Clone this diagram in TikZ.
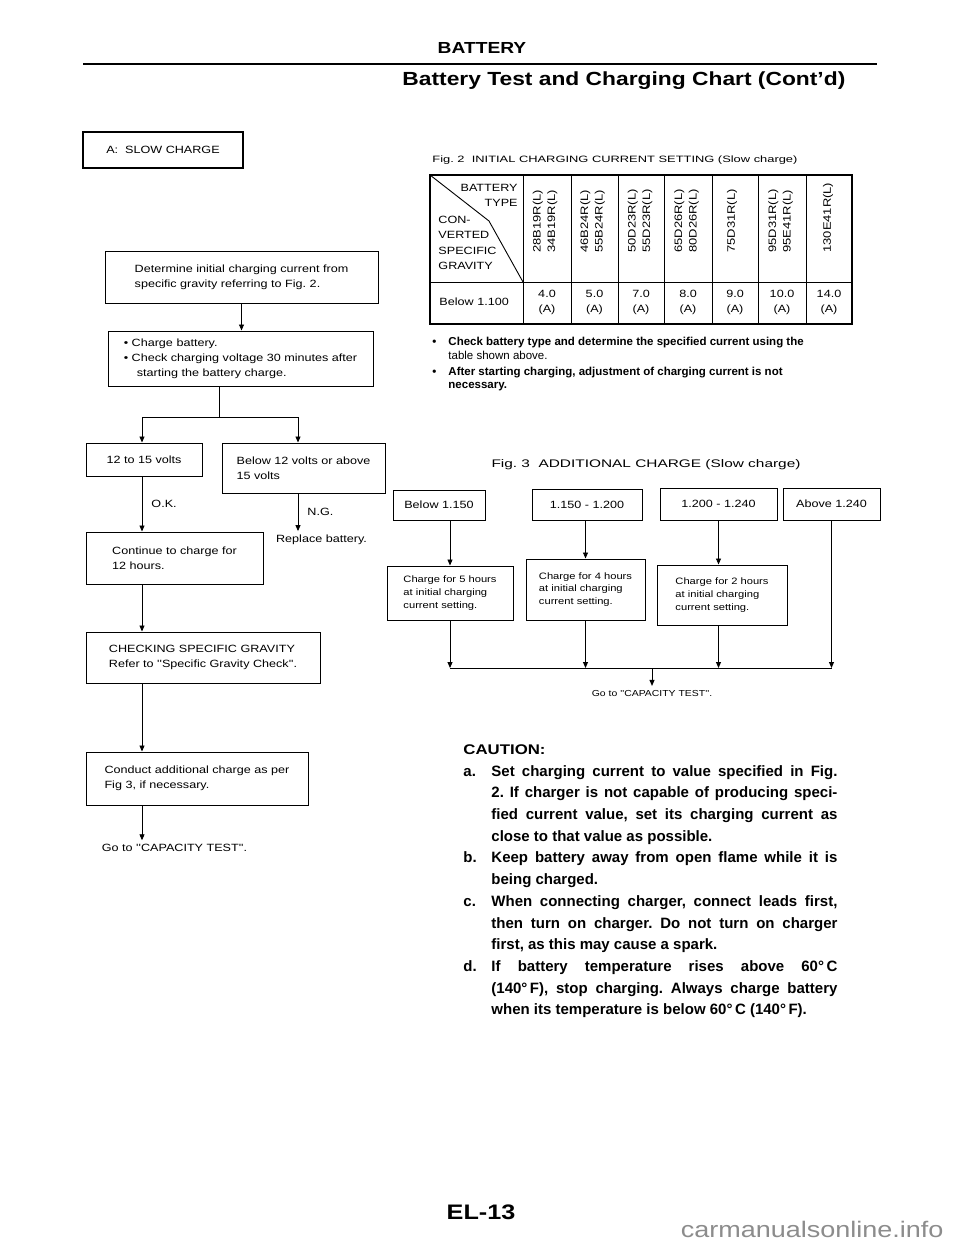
\documentclass[tikz,border=0pt]{standalone}
\usepackage{fontspec}
\setmainfont{Liberation Sans}
\newfontfamily\flowfont{Liberation Sans}[FakeStretch=1.2]
\newfontfamily\figfont{Liberation Sans}[FakeStretch=1.4]
\usetikzlibrary{arrows.meta, positioning, calc}
\frenchspacing

\begin{document}
\begin{tikzpicture}[x=1pt, y=-1pt, line width=0.9pt,
    >={Triangle[width=5pt,length=6pt]},
    txt/.style={inner sep=0pt, font=\flowfont\fontsize{10.5}{15}\selectfont},
    box/.style={draw, txt, align=left, line width=1pt},
    small/.style={font=\flowfont\fontsize{9.3}{12.8}\selectfont},
    cell/.style={inner sep=0pt, align=center, font=\flowfont\fontsize{10.5}{15}\selectfont},
    tlabel/.style={cell, rotate=90, anchor=west, align=left, font=\flowfont\fontsize{10.8}{14.5}\selectfont},
    note/.style={inner sep=0pt, align=left, font=\bfseries\fontsize{11.5}{13.5}\selectfont},
    figcap/.style={inner sep=0pt, font=\figfont\fontsize{9.2}{12}\selectfont},
    goto/.style={txt, outer sep=4pt}]
    \useasboundingbox[fill=white] (0,0) rectangle (960,1242);

    % titre
    \node[inner sep=0pt, font=\flowfont\bfseries\fontsize{16}{18}\selectfont] (H1) at (482,48) {BATTERY};
    \draw[line width=2.2pt] (83,64) -- (877,64);
    \node[anchor=west, inner sep=0pt, font=\flowfont\bfseries\fontsize{19}{22}\selectfont] (H2) at (402,81) {Battery Test and Charging Chart (Cont’d)};

    % colonne de gauche
    \node[box, line width=2pt, minimum width=160pt, minimum height=36pt] (A) at (163,150) {A:\ \ SLOW CHARGE};
    \node[box, minimum width=273pt, minimum height=52pt] (L1) at (241.5,277) {Determine initial charging current from\\specific gravity referring to Fig. 2.};
    \node[box, minimum width=265pt, minimum height=55pt] (L2) at (240.5,358.5) {• Charge battery.\\• Check charging voltage 30 minutes after\\\hspace*{13pt}starting the battery charge.};
    \node[box, minimum width=116pt, minimum height=33pt] (L3) at (144,459.5) {12 to 15 volts};
    \node[box, minimum width=163pt, minimum height=50pt] (L4) at (303.5,468) {Below 12 volts or above\\15 volts};
    \node[box, minimum width=177pt, minimum height=52pt] (L5) at (174.5,558) {Continue to charge for\\12 hours.};
    \node[box, minimum width=234pt, minimum height=51pt] (L6) at (203,657.5) {CHECKING SPECIFIC GRAVITY\\Refer to ''Specific Gravity Check''.};
    \node[box, minimum width=222pt, minimum height=53pt] (L7) at (197,778.5) {Conduct additional charge as per\\Fig 3, if necessary.};
    \node[goto] (R1) at (321.5,540) {Replace battery.};
    \node[goto] (G1) at (174.5,848) {Go to ''CAPACITY TEST''.};

    \coordinate (sL) at (142,417);
    \coordinate (sM) at (219,417);
    \coordinate (sR) at (298,417);

    % liaisons gauche
    \draw[->] (L1.south) -- (L1.south |- L2.north);
    \draw (L2.south -| sM) -- (sM);
    \draw (sL) -- (sR);
    \draw[->] (sL) -- (sL |- L3.north);
    \draw[->] (sR) -- (sR |- L4.north);
    \draw[->] (sL |- L3.south) -- (sL |- L5.north) node[midway, right=9pt, txt] {O.K.};
    \draw[->] (sR |- L4.south) -- (sR |- R1.north) node[midway, right=9pt, txt] {N.G.};
    \draw[->] (sL |- L5.south) -- (sL |- L6.north);
    \draw[->] (sL |- L6.south) -- (sL |- L7.north);
    \draw[->] (sL |- L7.south) -- (sL |- G1.north);

    % Fig. 2
    \node[figcap, anchor=west] (F2) at (432,160) {Fig. 2\ \ INITIAL CHARGING CURRENT SETTING (Slow charge)};
    \draw[line width=1.2pt] (430,175) rectangle (852,324);
    \draw (430,282) -- (852,282);
    \draw (523,175) -- (523,324) (571,175) -- (571,324) (618,175) -- (618,324)
          (664,175) -- (664,324) (712,175) -- (712,324) (758,175) -- (758,324)
          (806,175) -- (806,324);
    \draw (430,175) -- (489,221) -- (523,282);
    \node[cell, anchor=east] (TB) at (518,188) {BATTERY};
    \node[cell, anchor=east] (TT) at (518,203) {TYPE};
    \node[cell, anchor=west, align=left, font=\flowfont\fontsize{10.5}{15.3}\selectfont] (TG) at (438,243) {CON-\\VERTED\\SPECIFIC\\GRAVITY};
    \node[tlabel] (K1) at (545,253) {28B19R(L)\\34B19R(L)};
    \node[tlabel] (K2) at (592.5,253) {46B24R(L)\\55B24R(L)};
    \node[tlabel] (K3) at (640,253) {50D23R(L)\\55D23R(L)};
    \node[tlabel] (K4) at (686.5,253) {65D26R(L)\\80D26R(L)};
    \node[tlabel] (K5) at (732,253) {75D31R(L)};
    \node[tlabel] (K6) at (780.5,253) {95D31R(L)\\95E41R(L)};
    \node[tlabel] (K7) at (828,253) {130E41R(L)};
    \node[cell, anchor=west] (TR) at (439,302) {Below 1.100};
    \node[cell] (V1) at (547,302.5) {4.0\\(A)};
    \node[cell] (V2) at (594.5,302.5) {5.0\\(A)};
    \node[cell] (V3) at (641,302.5) {7.0\\(A)};
    \node[cell] (V4) at (688,302.5) {8.0\\(A)};
    \node[cell] (V5) at (735,302.5) {9.0\\(A)};
    \node[cell] (V6) at (782,302.5) {10.0\\(A)};
    \node[cell] (V7) at (829,302.5) {14.0\\(A)};

    \node[note, anchor=west] (N1) at (432,348.5) {\makebox[16pt][l]{•}Check battery type and determine the specified current using the\\\hspace*{16pt}{\mdseries table shown above.}};
    \node[note, anchor=west] (N2) at (432,379) {\makebox[16pt][l]{•}After starting charging, adjustment of charging current is not\\\hspace*{16pt}necessary.};

    % Fig. 3
    \node[figcap, font=\figfont\fontsize{11}{13}\selectfont] (F3) at (646,465) {Fig. 3\ \ ADDITIONAL CHARGE (Slow charge)};
    \node[box, minimum width=92pt, minimum height=30pt] (B1) at (439,505) {Below 1.150};
    \node[box, minimum width=110pt, minimum height=31pt] (B2) at (587,504.5) {1.150 - 1.200};
    \node[box, minimum width=117pt, minimum height=32pt] (B3) at (718.5,504) {1.200 - 1.240};
    \node[box, minimum width=97pt, minimum height=32pt] (B4) at (831.5,504) {Above 1.240};
    \node[box, small, minimum width=126pt, minimum height=54pt] (C1) at (450,593) {Charge for 5 hours\\at initial charging\\current setting.};
    \node[box, small, minimum width=119pt, minimum height=61pt] (C2) at (585.5,589.5) {Charge for 4 hours\\at initial charging\\current setting.};
    \node[box, small, minimum width=130pt, minimum height=60pt] (C3) at (722,595) {Charge for 2 hours\\at initial charging\\current setting.};
    \node[goto, font=\flowfont\fontsize{8.7}{11}\selectfont] (G2) at (652,693) {Go to ''CAPACITY TEST''.};

    \coordinate (J) at (652,668);

    \draw[->] (B1.south -| C1) -- (C1);
    \draw[->] (B2.south -| C2) -- (C2);
    \draw[->] (B3.south) -- (B3.south |- C3.north);
    \draw[->] (C1.south) -- (C1.south |- J);
    \draw[->] (C2.south) -- (C2.south |- J);
    \draw[->] (B3.south |- C3.south) -- (B3.south |- J);
    \draw[->] (B4.south) -- (B4.south |- J);
    \draw (C1.south |- J) -- (B4.south |- J);
    \draw[->] (J) -- (G2);

    % CAUTION
    \node[anchor=north west, inner sep=0pt, font=\bfseries\fontsize{15}{21.7}\selectfont] (CT) at (463,738.8) {%
      \begin{tabular}{@{}l@{}}
      {\flowfont\fontsize{14}{21.7}\selectfont CAUTION:}\\
      \makebox[28pt][l]{a.}\makebox[346pt][s]{Set charging current to value specified in Fig.}\\
      \hspace*{28pt}\makebox[346pt][s]{2. If charger is not capable of producing speci-}\\
      \hspace*{28pt}\makebox[346pt][s]{fied current value, set its charging current as}\\
      \hspace*{28pt}close to that value as possible.\\
      \makebox[28pt][l]{b.}\makebox[346pt][s]{Keep battery away from open flame while it is}\\
      \hspace*{28pt}being charged.\\
      \makebox[28pt][l]{c.}\makebox[346pt][s]{When connecting charger, connect leads first,}\\
      \hspace*{28pt}\makebox[346pt][s]{then turn on charger. Do not turn on charger}\\
      \hspace*{28pt}first, as this may cause a spark.\\
      \makebox[28pt][l]{d.}\makebox[346pt][s]{If battery temperature rises above 60°\,C}\\
      \hspace*{28pt}\makebox[346pt][s]{(140°\,F), stop charging. Always charge battery}\\
      \hspace*{28pt}when its temperature is below 60°\,C (140°\,F).
      \end{tabular}};

    % pied de page
    \node[inner sep=0pt, font=\flowfont\bfseries\fontsize{21}{24}\selectfont] (EL) at (481,1212) {EL-13};
    \node[anchor=base east, inner sep=0pt, text=black!45, font=\flowfont\fontsize{22.5}{26}\selectfont] (WM) at (944,1237) {carmanualsonline.info};
\end{tikzpicture}
\end{document}
